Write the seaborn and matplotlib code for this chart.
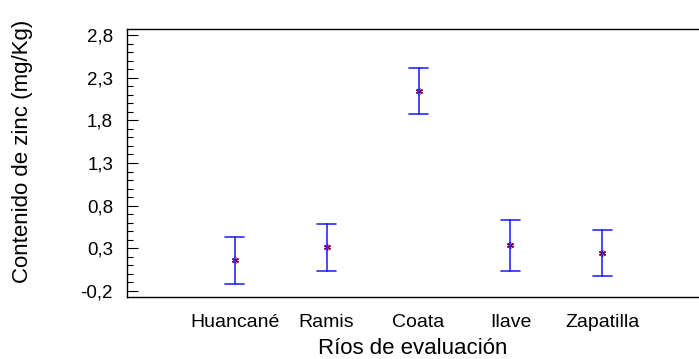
import matplotlib
matplotlib.use("Agg")
import matplotlib.pyplot as plt
import seaborn as sns
import pandas as pd
import numpy as np
from matplotlib.ticker import MultipleLocator, FixedLocator

rios = ["Huancané", "Ramis", "Coata", "Ilave", "Zapatilla"]
medias = [0.16, 0.31, 2.14, 0.34, 0.25]
inferior = [-0.12, 0.04, 1.87, 0.04, -0.025]
superior = [0.43, 0.58, 2.41, 0.63, 0.52]
yticks = [-0.2, 0.3, 0.8, 1.3, 1.8, 2.3, 2.8]
ytick_labels = ["-0,2", "0,3", "0,8", "1,3", "1,8", "2,3", "2,8"]

rows = []
for r, lo, m, hi in zip(rios, inferior, medias, superior):
    for v in (lo, m, hi):
        rows.append({"rio": r, "valor": v})
df = pd.DataFrame(rows)

sns.set_theme(style="white")
plt.rcParams["font.family"] = ["Liberation Sans", "DejaVu Sans"]

fig = plt.figure(figsize=(6.99, 3.59), dpi=100)
ax = fig.add_axes([127/699, 1-297/359, 1-127/699, (297-29)/359])

sns.pointplot(data=df, x="rio", y="valor", order=rios,
              estimator="median", errorbar=lambda x: (x.min(), x.max()),
              linestyle="none", marker=(6, 2, 0), markersize=5,
              color="#0000ff", capsize=0.2,
              markeredgecolor="#800040", markerfacecolor="#800040",
              markeredgewidth=1.0,
              err_kws={"color": "#2a2aff", "linewidth": 1.2}, ax=ax)

ax.set_xlim(-1.17, 5.05)
ax.set_ylim(-0.27, 2.87)
ax.yaxis.set_major_locator(FixedLocator(yticks))
ax.set_yticklabels(ytick_labels)
ax.yaxis.set_minor_locator(MultipleLocator(0.1))
ax.tick_params(axis="y", which="major", direction="in", length=8, width=0.8,
               color="black", left=True, labelsize=13.5, pad=10,
               labelcolor="black")
ax.tick_params(axis="y", which="minor", direction="in", length=4, width=0.8,
               color="black", left=True)
ax.tick_params(axis="x", which="both", bottom=False, labelsize=14, pad=6,
               labelcolor="black")

for s in ["left", "bottom", "top"]:
    ax.spines[s].set_visible(True)
    ax.spines[s].set_color("black")
    ax.spines[s].set_linewidth(1.0)
ax.spines["right"].set_visible(False)

ax.set_xlabel("Ríos de evaluación", fontsize=16, color="black")
ax.set_ylabel("Contenido de zinc (mg/Kg)", fontsize=16, color="black")
ax.yaxis.set_label_coords(-0.164, 0.543)
ax.xaxis.set_label_coords(0.5, -0.152)

fig.savefig("out.png", dpi=100)
